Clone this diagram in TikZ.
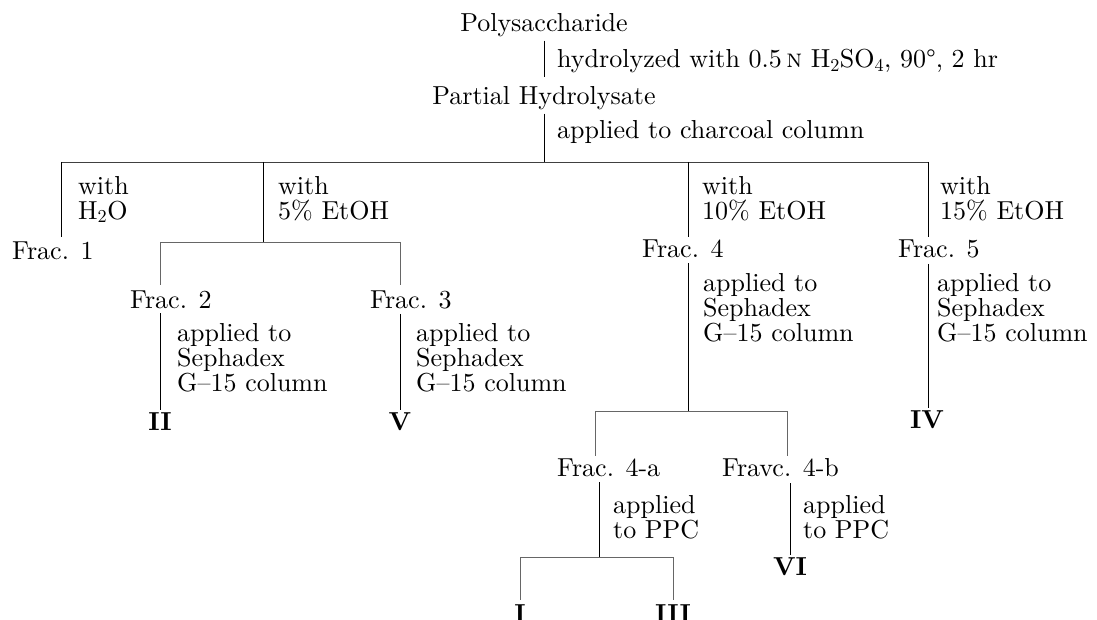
\documentclass[tikz,border=0pt]{standalone}
\usepackage{fontspec}
\setmainfont{lmroman10-regular.otf}[
    BoldFont=lmroman10-bold.otf,
    ItalicFont=lmroman10-italic.otf,
    SmallCapsFont=lmromancaps10-regular.otf]
\usepackage{tikz}
\usetikzlibrary{positioning}

\begin{document}
\begin{tikzpicture}[
    x=1pt, y=-1pt,
    txt/.style={inner sep=0pt, font=\fontsize{26}{25}\selectfont},
    lbl/.style={txt, align=left, anchor=north west},
    frac/.style={txt, anchor=base west},
    prod/.style={inner sep=0pt, anchor=base, font=\fontsize{26}{25}\selectfont\bfseries},
    ln/.style={line width=1pt},
    hl/.style={line width=0.7pt, black!75},
    br/.style={line width=0.6pt, black!60}
]
\useasboundingbox (0,0) rectangle (1097,620);

\node[txt, anchor=base] (poly) at (544,32) {Polysaccharide};
\node[txt, anchor=base west] (hyd) at (557,68) {hydrolyzed with 0.5\,\textsc{n} H\textsubscript{2}SO\textsubscript{4}, 90°, 2 hr};
\node[txt, anchor=base] (part) at (544,105) {Partial Hydrolysate};
\node[txt, anchor=base west] (char) at (557,139) {applied to charcoal column};

\coordinate (top) at (544,162);
\coordinate (t1) at (61,162);
\coordinate (t2) at (263,162);
\coordinate (t4) at (688,162);
\coordinate (t5) at (928,162);

\node[lbl] (w1) at (78,176) {with\\H\textsubscript{2}O};
\node[lbl] (w2) at (278,176) {with\\5\%~EtOH};
\node[lbl] (w4) at (702,176) {with\\10\%~EtOH};
\node[lbl] (w5) at (940,176) {with\\15\%~EtOH};

\node[frac] (f1) at (12,259) {Frac. 1};
\node[frac] (f4) at (642,258) {Frac. 4};
\node[frac] (f5) at (898,258) {Frac. 5};

\coordinate (m2) at (263,242);
\coordinate (a2) at (160,242);
\coordinate (a3) at (400,242);
\node[frac] (f2) at (130,308) {Frac. 2};
\node[frac] (f3) at (370,308) {Frac. 3};

\node[lbl] (s2) at (177,323) {applied to\\Sephadex\\G–15 column};
\node[lbl] (s3) at (416,323) {applied to\\Sephadex\\G–15 column};
\node[lbl] (s4) at (703,273) {applied to\\Sephadex\\G–15 column};
\node[lbl] (s5) at (937,273) {applied to\\Sephadex\\G–15 column};

\node[prod] (pII) at (160,430) {II};
\node[prod] (pV) at (400,430) {V};
\node[prod] (pIV) at (927,428) {IV};

\coordinate (m4) at (688,411);
\coordinate (b1) at (595,411);
\coordinate (b2) at (787,411);
\node[frac] (fa) at (557,476) {Frac. 4-a};
\node[frac] (fb) at (722,476) {Fravc. 4-b};
\node[lbl] (pa) at (613,495) {applied\\to PPC};
\node[lbl] (pb) at (803,495) {applied\\to PPC};

\coordinate (ma) at (599,557);
\coordinate (c1) at (520,557);
\coordinate (c2) at (673,557);
\node[prod] (pVI) at (790,575) {VI};
\node[prod] (pI) at (520,622) {I};
\node[prod] (pIII) at (673,622) {III};

\draw[ln, shorten <=3pt, shorten >=10pt] (poly) -- (part);
\draw[ln, shorten <=3pt] (part.south -| top) -- (top);
\draw[hl] (t1) -- (t5);
\draw[ln, shorten >=4pt] (t1) -- (t1 |- f1.north);
\draw[ln] (t2) -- (m2);
\draw[ln, shorten >=3pt] (t4) -- (t4 |- f4.north);
\draw[ln, shorten >=3pt] (t5) -- (t5 |- f5.north);

\draw[br] (a2) -- (a3);
\draw[br, shorten >=5pt] (a2) -- (a2 |- f2.north);
\draw[br, shorten >=5pt] (a3) -- (a3 |- f3.north);
\draw[ln, shorten <=5pt, shorten >=2pt] (f2.south -| pII) -- (pII);
\draw[ln, shorten <=5pt, shorten >=2pt] (f3.south -| pV) -- (pV);
\draw[ln, shorten <=5pt] (f4.south -| m4) -- (m4);
\draw[ln, shorten <=5pt, shorten >=2pt] (f5.south -| t5) -- (t5 |- pIV.north);

\draw[br] (b1) -- (b2);
\draw[br, shorten >=2pt] (b1) -- (b1 |- fa.north);
\draw[br, shorten >=2pt] (b2) -- (b2 |- fb.north);
\draw[ln, shorten <=6pt] (fa.south -| ma) -- (ma);
\draw[ln, shorten <=7pt, shorten >=2pt] (fb.south -| pVI) -- (pVI);

\draw[br] (c1) -- (c2);
\draw[br, shorten >=4pt] (c1) -- (pI);
\draw[br, shorten >=4pt] (c2) -- (pIII);
\end{tikzpicture}
\end{document}
